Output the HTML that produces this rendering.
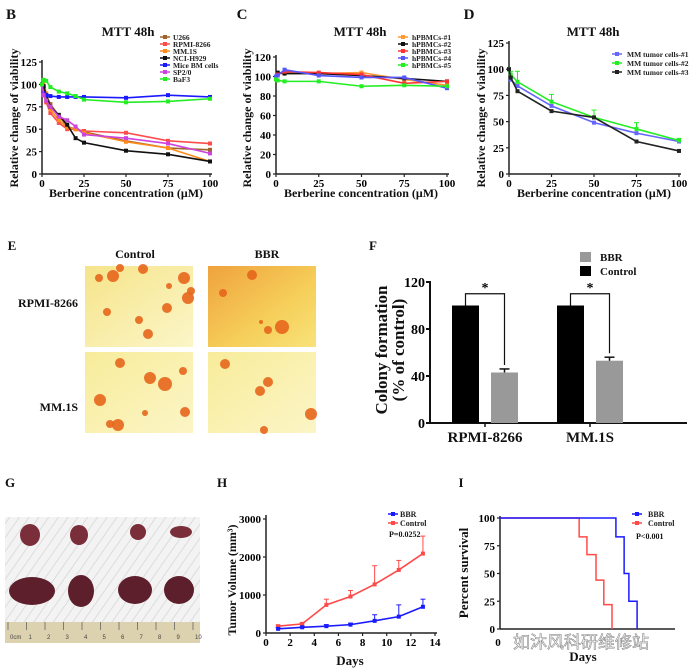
<!DOCTYPE html>
<html><head><meta charset="utf-8">
<style>
html,body{margin:0;padding:0;background:#fff;}
svg{display:block;font-family:"Liberation Serif","Noto Serif CJK SC",serif;}
.t{font-weight:bold;}
</style></head>
<body>
<svg id="fig" width="694" height="671" viewBox="0 0 694 671" xmlns="http://www.w3.org/2000/svg">
<defs>
<linearGradient id="gE1" x1="0" y1="0" x2="1" y2="1"><stop offset="0" stop-color="#f6e48a"/><stop offset="1" stop-color="#fbf6c8"/></linearGradient>
<linearGradient id="gE2" x1="0" y1="0" x2="1" y2="1"><stop offset="0" stop-color="#efa23c"/><stop offset="0.6" stop-color="#f6cf5a"/><stop offset="1" stop-color="#f8e27a"/></linearGradient>
<linearGradient id="gE3" x1="0" y1="0" x2="1" y2="1"><stop offset="0" stop-color="#f8ec9a"/><stop offset="1" stop-color="#fbf5c6"/></linearGradient>
<pattern id="towel" width="8" height="8" patternUnits="userSpaceOnUse" patternTransform="rotate(35)"><rect width="8" height="8" fill="#f3f3f3"/><line x1="0" y1="0" x2="0" y2="8" stroke="#dcdcdc" stroke-width="2"/></pattern>
</defs>
<g id="root"></g>
</svg>
<script>
// ---------- Panel B data ----------
const bX = [0,1,2.5,5,10,15,20,25,50,75,100];
const bNames = ["U266","RPMI-8266","MM.1S","NCI-H929","Mice BM cells","SP2/0","BaF3"];
const bU266 = [100,95,88,78,65,53,50,47,37,29,27];
const bRPMI = [100,88,80,68,57,50,50,48,46,37,34];
const bMM1S = [100,105,90,72,60,52,50,46,36,29,14];
const bH929 = [100,98,88,75,66,55,40,35,26,22,14];
const bBM = [100,90,88,87,86,86,86,86,85,88,86];
const bSP20 = [100,88,82,75,64,60,53,44,40,34,23];
const bBaF3 = [100,105,104,97,92,90,87,83,80,81,84];
const bYTicks = [0,25,50,75,100,125];
const bXTicks = [0,25,50,75,100];
// ---------- Panel C data ----------
const cX = [0,1,5,25,50,75,100];
const cNames = ["hPBMCs-#1","hPBMCs-#2","hPBMCs-#3","hPBMCs-#4","hPBMCs-#5"];
const c1 = [100,103,103,103,104,97,91];
const c2 = [100,104,103,103,101,98,95];
const c3 = [100,102,105,104,102,93,95];
const c4 = [100,101,107,101,99,99,88];
const c5 = [97,96,95,95,90,91,90];
const cYTicks = [0,20,40,60,80,100,120];
// ---------- Panel D data ----------
const dX = [0,1,5,25,50,75,100];
const dNames = ["MM tumor cells-#1","MM tumor cells-#2","MM tumor cells-#3"];
const d1 = [100,90,84,65,49,39,31];
const d2 = [100,95,88,69,54,43,32];
const d3 = [100,92,79,60,54,31,22];
const d2Err = [0,3,10,7,7,6,2];
// ---------- Panel F data ----------
const fCats = ["RPMI-8266","MM.1S"];
const fControl = [100,100];
const fBBR = [43,53];
const fBBRErr = [3,3];
const fYTicks = [0,40,80,120];
// ---------- Panel H data ----------
const hDays = [1,3,5,7,9,11,13];
const hBBR = [110,150,180,220,320,430,690];
const hBBRErr = [30,30,40,40,160,310,200];
const hCtrl = [180,240,740,960,1280,1660,2090];
const hCtrlErr = [30,30,150,160,490,250,460];
const hYTicks = [0,1000,2000,3000];
const hXTicks = [0,2,4,6,8,10,12,14];
// ---------- Panel I data ----------
const iCtrlT = [0,18.3,20.1,22.2,24,25.9];
const iCtrlS = [100,83,67,44,22,0];
const iBBRT = [0,26.8,28.7,29.8,31.7];
const iBBRS = [100,83,50,25,0];
const iYTicks = [0,25,50,75,100];

const NS = "http://www.w3.org/2000/svg";
const root = document.getElementById("root");
function mk(parent, tag, attrs, text){
  const e = document.createElementNS(NS, tag);
  for (const k in attrs) e.setAttribute(k, attrs[k]);
  if (text !== undefined) e.textContent = text;
  parent.appendChild(e);
  return e;
}
function grp(parent, name){
  const g = mk(parent, "g", {});
  
  
  return g;
}
function label(parent, name, x, y, txt, size, anchor, rot){
  const t = mk(parent, "text", {x:x, y:y, "font-size":size, "font-weight":"bold", "text-anchor":anchor||"middle", fill:"#111"}, txt);
  if (rot) t.setAttribute("transform", "rotate(-90 "+x+" "+y+")");
  
  
  return t;
}
function axes(g, sx, sy, xt, yt, x0, y0, x1, y1, fs){
  mk(g,"line",{x1:x0,y1:y0,x2:x1,y2:y0,stroke:"#222","stroke-width":1.5});
  mk(g,"line",{x1:x0,y1:y0,x2:x0,y2:y1,stroke:"#222","stroke-width":1.5});
  xt.forEach(v=>{
    mk(g,"line",{x1:sx(v),y1:y0,x2:sx(v),y2:y0+3,stroke:"#222","stroke-width":1.2});
    const t = mk(g,"text",{x:sx(v),y:y0+13,"font-size":fs,"font-weight":"bold","text-anchor":"middle"},String(v));
    
    
  });
  yt.forEach(v=>{
    mk(g,"line",{x1:x0-3,y1:sy(v),x2:x0,y2:sy(v),stroke:"#222","stroke-width":1.2});
    const t = mk(g,"text",{x:x0-5,y:sy(v)+4,"font-size":fs,"font-weight":"bold","text-anchor":"end"},String(v));
    
    
  });
}
function series(g, name, xs, ys, sx, sy, color, errs){
  const sg = grp(g, name);
  const pts = xs.map((x,i)=>sx(x)+","+sy(ys[i])).join(" ");
  const pl = mk(sg,"polyline",{points:pts,fill:"none",stroke:color,"stroke-width":1.6});
  
  
  xs.forEach((x,i)=>{
    if (errs && errs[i]>0){
      mk(sg,"line",{x1:sx(x),y1:sy(ys[i]),x2:sx(x),y2:sy(ys[i]+errs[i]),stroke:color,"stroke-width":1});
      mk(sg,"line",{x1:sx(x)-2.5,y1:sy(ys[i]+errs[i]),x2:sx(x)+2.5,y2:sy(ys[i]+errs[i]),stroke:color,"stroke-width":1});
    }
    const p = mk(sg,"rect",{x:sx(x)-2,y:sy(ys[i])-2,width:4,height:4,fill:color});
    
    
  });
}
function legend(g, names, colors, mx, tx, ys, fs){
  names.forEach((n,i)=>{
    const lg = grp(g, 'legend-entry');
    mk(lg,"line",{x1:mx-5,y1:ys[i],x2:mx+5,y2:ys[i],stroke:colors[i],"stroke-width":1.5});
    mk(lg,"rect",{x:mx-2,y:ys[i]-2,width:4,height:4,fill:colors[i]});
    mk(lg,"text",{x:tx,y:ys[i]+3,"font-size":fs,"font-weight":"bold",fill:"#222"},n);
  });
}
function lin(d0,d1,p0,p1){ return v => p0 + (v-d0)/(d1-d0)*(p1-p0); }

// ===== Panel B =====
{
  const g = grp(root,'panel-b');
  label(g,'panel-b-letter',11,19,"B",15);
  label(g,'panel-b-title',128,36,"MTT 48h",13);
  const sx = lin(0,100,42,210), sy = lin(0,125,174,62);
  axes(g,sx,sy,bXTicks,bYTicks,42,174,212,60,11);
  const cols = ["#a0642a","#ff4c4c","#ff8c1a","#111111","#1a1aff","#cc44dd","#22ee22"];
  const all = [bU266,bRPMI,bMM1S,bH929,bBM,bSP20,bBaF3];
  all.forEach((s,i)=>series(g,'series-'+bNames[i].toLowerCase().replace(/[^a-z0-9]+/g,'-'),bX,s,sx,sy,cols[i]));
  legend(g,bNames,cols,165,173,[37,44,51,58,65,72,79],7.5);
  label(g,'y-axis-title',18,118,"Relative change of viability",12,"middle",true);
  label(g,'x-axis-title',126,197,"Berberine concentration (μM)",12);
}
// ===== Panel C =====
{
  const g = grp(root,'panel-c');
  label(g,'panel-c-letter',242,19,"C",15);
  label(g,'panel-c-title',360,36,"MTT 48h",13);
  const sx = lin(0,100,276,447), sy = lin(0,120,174,57);
  axes(g,sx,sy,bXTicks,cYTicks,276,174,449,55,11);
  const cols = ["#ff9933","#111111","#ff3333","#5555ff","#22ee22"];
  [c1,c2,c3,c4,c5].forEach((s,i)=>series(g,'series-hpbmcs-'+(i+1),cX,s,sx,sy,cols[i]));
  legend(g,cNames,cols,403,412,[37,44,51,58,65],7.5);
  label(g,'y-axis-title',251,118,"Relative change of viability",12,"middle",true);
  label(g,'x-axis-title',361,197,"Berberine concentration (μM)",12);
}
// ===== Panel D =====
{
  const g = grp(root,'panel-d');
  label(g,'panel-d-letter',469,19,"D",15);
  label(g,'panel-d-title',593,36,"MTT 48h",13);
  const sx = lin(0,100,509,679), sy = lin(0,125,174,43);
  axes(g,sx,sy,bXTicks,bYTicks,509,174,681,41,11);
  const cols = ["#6666ff","#22ee22","#222222"];
  series(g,'series-mm-tumor-1',dX,d1,sx,sy,cols[0]);
  series(g,'series-mm-tumor-2',dX,d2,sx,sy,cols[1],d2Err);
  series(g,'series-mm-tumor-3',dX,d3,sx,sy,cols[2]);
  legend(g,dNames,cols,617,627,[54,63,72],7.5);
  label(g,'y-axis-title',485,118,"Relative change of viability",12,"middle",true);
  label(g,'x-axis-title',594,197,"Berberine concentration (μM)",12);
}
// ===== Panel E =====
{
  const g = grp(root,'panel-e');
  label(g,'panel-e-letter',12,250,"E",13);
  label(g,'col-label-control',135,258,"Control",12);
  label(g,'col-label-bbr',267,258,"BBR",12);
  label(g,'row-label-rpmi',78,307,"RPMI-8266",12,"end");
  label(g,'row-label-mm1s',78,411,"MM.1S",12,"end");
  const imgs = [
    {x:85,y:266,f:"url(#gE1)",n:'photo-control-rpmi'},
    {x:208,y:266,f:"url(#gE2)",n:'photo-bbr-rpmi'},
    {x:85,y:352,f:"url(#gE3)",n:'photo-control-mm1s'},
    {x:208,y:352,f:"url(#gE3)",n:'photo-bbr-mm1s'}
  ];
  const spots = [
    [[14,12,4],[28,10,6],[35,2,4],[58,3,5],[84,20,3],[99,12,6],[106,25,4],[22,46,4],[54,54,4],[82,42,5],[103,32,6],[63,68,5],[108,45,5]],
    [[44,9,5],[15,27,4],[53,56,2],[60,64,4],[74,61,7]],
    [[35,11,5],[65,26,6],[80,32,7],[98,19,4],[15,48,6],[25,72,4],[60,61,3],[100,60,5],[33,73,6]],
    [[17,12,5],[60,30,5],[52,39,5],[103,62,6],[56,78,4]]
  ];
  imgs.forEach((im,k)=>{
    const ig = grp(g, im.n);
    mk(ig,"rect",{x:im.x,y:im.y,width:108,height:81,fill:im.f});
    spots[k].forEach(s=>{ if (s[0]+s[2]<=110) mk(ig,"circle",{cx:im.x+s[0],cy:im.y+s[1],r:s[2],fill:"#e5661c",opacity:0.9}); });
  });
}
// ===== Panel F =====
{
  const g = grp(root,'panel-f');
  label(g,'panel-f-letter',373,250,"F",13);
  const sy = lin(0,120,423,282);
  const x0 = 430;
  mk(g,"line",{x1:x0,y1:423,x2:687,y2:423,stroke:"#111","stroke-width":2});
  mk(g,"line",{x1:x0,y1:423,x2:x0,y2:281,stroke:"#111","stroke-width":2});
  fYTicks.forEach(v=>{
    mk(g,"line",{x1:x0-4,y1:sy(v),x2:x0,y2:sy(v),stroke:"#111","stroke-width":2});
    const t = mk(g,"text",{x:x0-5,y:sy(v)+5,"font-size":14,"font-weight":"bold","text-anchor":"end"},String(v));
    
    
  });
  const groupX = [452,557];
  fCats.forEach((c,i)=>{
    const bx = groupX[i];
    const b1 = mk(g,"rect",{x:bx,y:sy(fControl[i]),width:27,height:423-sy(fControl[i]),fill:"#000"});
    
    
    const b2 = mk(g,"rect",{x:bx+39,y:sy(fBBR[i]),width:27,height:423-sy(fBBR[i]),fill:"#999"});
    
    
    const ex = bx+52.5, et = sy(fBBR[i]+fBBRErr[i]);
    mk(g,"line",{x1:ex,y1:sy(fBBR[i]),x2:ex,y2:et,stroke:"#111","stroke-width":1.5});
    mk(g,"line",{x1:ex-5,y1:et,x2:ex+5,y2:et,stroke:"#111","stroke-width":1.5});
    const by = sy(110);
    mk(g,"polyline",{points:(bx+13.5)+","+sy(fControl[i])+" "+(bx+13.5)+","+by+" "+ex+","+by+" "+ex+","+(et-4),fill:"none",stroke:"#111","stroke-width":1.2});
    mk(g,"text",{x:(bx+13.5+ex)/2,y:by-2,"font-size":14,"font-weight":"bold","text-anchor":"middle"},"*");
    mk(g,"line",{x1:bx+33,y1:423,x2:bx+33,y2:427,stroke:"#111","stroke-width":1.5});
    label(g,'x-category-label',bx+33,442,c,15);
  });
  mk(g,"rect",{x:580,y:252,width:11,height:10,fill:"#999"});
  mk(g,"rect",{x:580,y:266,width:11,height:10,fill:"#000"});
  label(g,'legend-bbr',600,261,"BBR",11,"start");
  label(g,'legend-control',600,275,"Control",11,"start");
  label(g,'y-axis-title',387,350,"Colony formation",17,"middle",true);
  label(g,'y-axis-title-2',404,350,"(% of control)",17,"middle",true);
}
// ===== Panel G =====
{
  const g = grp(root,'panel-g');
  label(g,'panel-g-letter',10,487,"G",13);
  const pg = grp(g,'tumor-photo');
  mk(pg,"rect",{x:5,y:517,width:195,height:126,fill:"url(#towel)"});
  mk(pg,"rect",{x:5,y:622,width:195,height:21,fill:"#ddd2b0"});
  for (let i=0;i<=10;i++){ mk(pg,"line",{x1:8+i*18.5,y1:622,x2:8+i*18.5,y2:630,stroke:"#555","stroke-width":0.7}); mk(pg,"text",{x:10+i*18.5,y:639,"font-size":6,fill:"#444","font-family":"Liberation Sans, sans-serif"},String(i||"0cm")); }
  [[30,535,10,11],[79,535,9,10],[138,532,8,8],[181,532,11,6]].forEach(t=>mk(pg,"ellipse",{cx:t[0],cy:t[1],rx:t[2],ry:t[3],fill:"#7a2e3a"}));
  [[32,591,23,14],[81,591,13,16],[135,590,17,14],[179,590,15,14]].forEach(t=>mk(pg,"ellipse",{cx:t[0],cy:t[1],rx:t[2],ry:t[3],fill:"#5e1f2c"}));
}
// ===== Panel H =====
{
  const g = grp(root,'panel-h');
  label(g,'panel-h-letter',222,487,"H",13);
  const sx = lin(0,14,266,435), sy = lin(0,3000,633,519);
  axes(g,sx,sy,hXTicks,hYTicks,266,633,437,515,11);
  series(g,'series-control',hDays,hCtrl,sx,sy,"#ff4a4a",hCtrlErr);
  series(g,'series-bbr',hDays,hBBR,sx,sy,"#1a1aff",hBBRErr);
  legend(g,["BBR","Control"],["#1a1aff","#ff4a4a"],393,400,[514,523],8);
  label(g,'p-value',389,537,"P=0.0252",8,"start");
  label(g,'y-axis-title',236,580,"Tumor  Volume  (mm³)",12,"middle",true);
  label(g,'x-axis-title',350,665,"Days",13);
}
// ===== Panel I =====
{
  const g = grp(root,'panel-i');
  label(g,'panel-i-letter',461,487,"I",13);
  const sx = lin(0,40,500,673), sy = lin(0,100,629,518);
  mk(g,"line",{x1:500,y1:629,x2:675,y2:629,stroke:"#222","stroke-width":1.5});
  mk(g,"line",{x1:500,y1:629,x2:500,y2:516,stroke:"#222","stroke-width":1.5});
  iYTicks.forEach(v=>{
    mk(g,"line",{x1:497,y1:sy(v),x2:500,y2:sy(v),stroke:"#222","stroke-width":1.2});
    const t = mk(g,"text",{x:495,y:sy(v)+4,"font-size":11,"font-weight":"bold","text-anchor":"end"},String(v));
    
    
  });
  mk(g,"text",{x:498,y:646,"font-size":11,"font-weight":"bold","text-anchor":"middle"},"0");
  function step(ts,ss){ let p = sx(ts[0])+","+sy(ss[0]); for(let i=1;i<ts.length;i++){ p += " "+sx(ts[i])+","+sy(ss[i-1])+" "+sx(ts[i])+","+sy(ss[i]); } return p; }
  const lc = mk(g,"polyline",{points:step(iCtrlT,iCtrlS),fill:"none",stroke:"#ff4a4a","stroke-width":1.5});
  
  
  const lb = mk(g,"polyline",{points:step(iBBRT,iBBRS),fill:"none",stroke:"#1a1aff","stroke-width":1.5});
  
  
  legend(g,["BBR","Control"],["#1a1aff","#ff4a4a"],637,648,[514,523],8);
  label(g,'p-value',636,539,"P<0.001",8,"start");
  label(g,'y-axis-title',468,573,"Percent survival",13,"middle",true);
  label(g,'x-axis-title',583,661,"Days",13);
  const wm = mk(g,"text",{x:513,y:648,"font-size":17,fill:"#ffffff",stroke:"#888","stroke-width":0.6,"font-family":"Noto Sans CJK SC, sans-serif"},"如沐风科研维修站");
  
  
}
</script>
</body></html>
